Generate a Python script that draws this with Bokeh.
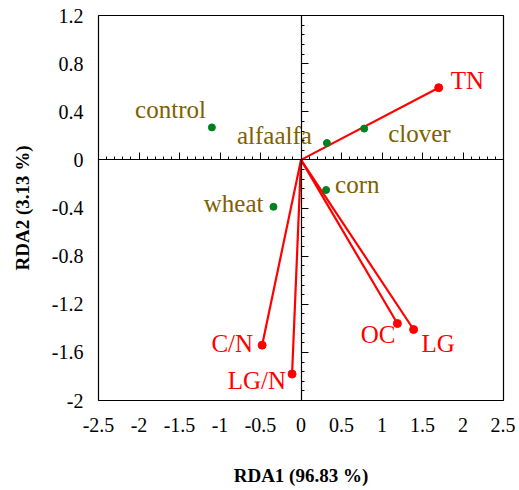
from bokeh.plotting import figure
from bokeh.models import (ColumnDataSource, LinearAxis, FixedTicker,
                          CustomJSTickFormatter, Range1d)
from bokeh.embed import file_html
from bokeh.resources import INLINE

# ---- data ----
sites = ["control", "alfaalfa", "clover", "corn", "wheat"]
site_x = [-1.10, 0.32, 0.78, 0.31, -0.34]
site_y = [0.27, 0.14, 0.26, -0.25, -0.39]

vars_ = ["TN", "OC", "LG", "C/N", "LG/N"]
var_x = [1.70, 1.19, 1.39, -0.48, -0.11]
var_y = [0.60, -1.36, -1.41, -1.54, -1.78]

x_ticks = [-2.5, -2, -1.5, -1, -0.5, 0, 0.5, 1, 1.5, 2, 2.5]
y_ticks = [-2, -1.6, -1.2, -0.8, -0.4, 0, 0.4, 0.8, 1.2]

x_title = "RDA1 (96.83 %)"
y_title = "RDA2 (3.13 %)"

# ---- label placement (style only: pixel offsets) ----
site_dx = [-6, -15, 24, 9, -10]
site_dy = [-18, -8, 5, -5, -3]
site_align = ["right", "right", "left", "left", "right"]
var_dx = [12, -2, 8, -9, -6]
var_dy = [-7, 11, 14, -2, 6]
var_align = ["left", "right", "left", "right", "right"]

FONT = "'Liberation Serif', 'Times New Roman', serif"
OLIVE = "#7F6000"
GREEN = "#00801E"
RED = "#FF0000"


def minors(ticks, n=5):
    out = []
    for a, b in zip(ticks[:-1], ticks[1:]):
        step = (b - a) / n
        out += [round(a + k * step, 4) for k in range(1, n)]
    return out


p = figure(width=515, height=488, output_backend="svg", toolbar_location=None,
           x_range=Range1d(-2.5, 2.5), y_range=Range1d(-2, 1.2),
           min_border_left=98, min_border_right=12, min_border_top=15,
           min_border_bottom=85, x_axis_label=x_title, y_axis_label=y_title)
p.grid.visible = False
p.outline_line_color = "black"
p.outline_line_width = 1.2

fmt = CustomJSTickFormatter(code="return parseFloat(tick.toFixed(2)).toString();")
xt = FixedTicker(ticks=x_ticks, minor_ticks=minors(x_ticks))
yt = FixedTicker(ticks=y_ticks, minor_ticks=minors(y_ticks))

for ax, t in ((p.xaxis[0], xt), (p.yaxis[0], yt)):
    ax.ticker = t
    ax.formatter = fmt
    ax.major_tick_line_color = None
    ax.minor_tick_line_color = None
    ax.major_tick_out = 0
    ax.minor_tick_out = 0
    ax.major_tick_in = 0
    ax.minor_tick_in = 0
    ax.axis_line_color = None
    ax.major_label_text_font = FONT
    ax.major_label_text_font_size = "20px"
    ax.major_label_text_color = "black"
    ax.axis_label_text_font = FONT
    ax.axis_label_text_font_size = "19px"
    ax.axis_label_text_font_style = "bold"
    ax.axis_label_text_color = "black"
p.xaxis[0].major_label_standoff = 17
p.xaxis[0].axis_label_standoff = 30
p.yaxis[0].major_label_standoff = 15
p.yaxis[0].axis_label_standoff = 16

# center axes through zero
cx = LinearAxis(fixed_location=0, ticker=FixedTicker(ticks=x_ticks, minor_ticks=minors(x_ticks)),
                major_label_text_font_size="0px", major_label_text_color=None)
cy = LinearAxis(fixed_location=0, ticker=FixedTicker(ticks=y_ticks, minor_ticks=minors(y_ticks)),
                major_label_text_font_size="0px", major_label_text_color=None)
for ax in (cx, cy):
    ax.axis_line_color = "black"
    ax.axis_line_width = 1.2
    ax.major_tick_line_color = "black"
    ax.minor_tick_line_color = "black"
    ax.major_tick_in = 7
    ax.major_tick_out = 0
    ax.minor_tick_in = 3
    ax.minor_tick_out = 0
p.add_layout(cx, "below")
p.add_layout(cy, "left")

# vectors
vsrc = ColumnDataSource(dict(x=var_x, y=var_y, name=vars_, dx=var_dx, dy=var_dy, al=var_align))
p.segment(x0=0, y0=0, x1="x", y1="y", source=vsrc, line_color=RED, line_width=2.2)
p.scatter("x", "y", source=vsrc, size=8, color=RED)
p.text("x", "y", text="name", source=vsrc, x_offset="dx", y_offset="dy",
       text_align="al", text_baseline="alphabetic", text_color=RED,
       text_font={"value": FONT}, text_font_size="25px")

# sites
ssrc = ColumnDataSource(dict(x=site_x, y=site_y, name=sites, dx=site_dx, dy=site_dy, al=site_align))
p.scatter("x", "y", source=ssrc, size=7, color=GREEN)
p.text("x", "y", text="name", source=ssrc, x_offset="dx", y_offset="dy",
       text_align="al", text_baseline="alphabetic", text_color=OLIVE,
       text_font={"value": FONT}, text_font_size="25px")

open("out.html", "w").write(file_html(p, INLINE))
